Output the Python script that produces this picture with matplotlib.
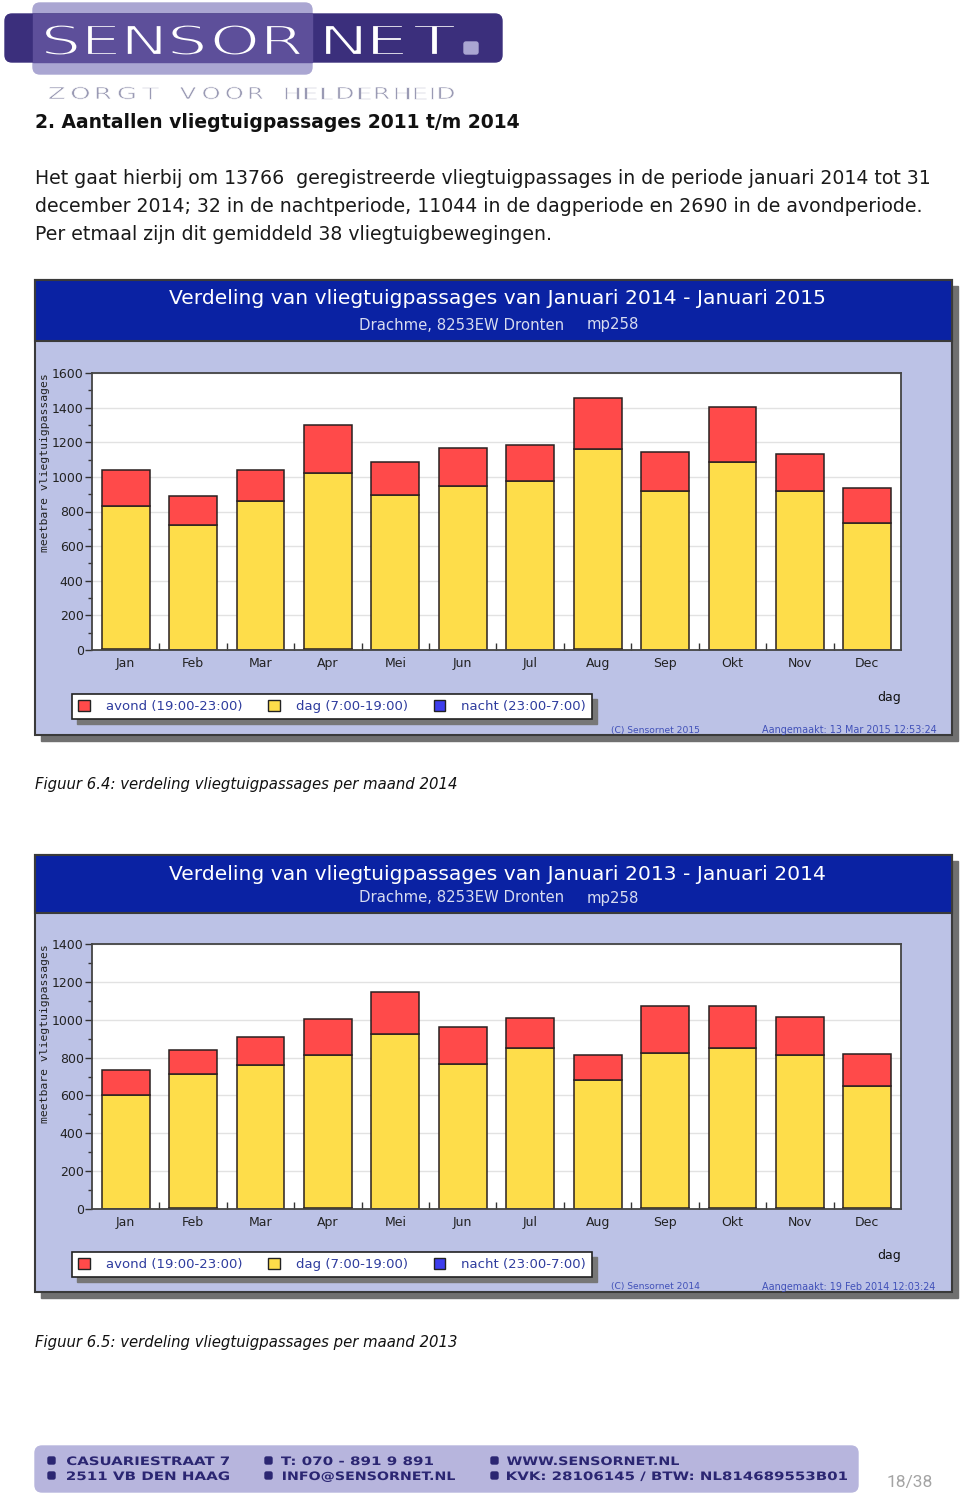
import numpy as np
import matplotlib
matplotlib.use("Agg")
import matplotlib.pyplot as plt
from matplotlib.patches import Rectangle, FancyBboxPatch, Patch, PathPatch
from matplotlib.ticker import MultipleLocator
from matplotlib.textpath import TextPath
from matplotlib.font_manager import FontProperties
from matplotlib.transforms import Affine2D

# ---- data ----
months = ["Jan", "Feb", "Mar", "Apr", "Mei", "Jun", "Jul", "Aug", "Sep", "Okt", "Nov", "Dec"]

# 2014 (Figuur 6.4)
nacht_2014 = [6, 2, 2, 3, 2, 2, 2, 7, 1, 2, 2, 1]
dag_2014 = [827, 719, 858, 1019, 893, 945, 972, 1152, 919, 1083, 918, 732]
avond_2014 = [208, 166, 181, 280, 193, 222, 208, 297, 221, 317, 214, 202]

# 2013 (Figuur 6.5)
nacht_2013 = [1, 4, 1, 4, 1, 1, 1, 1, 3, 3, 3, 3]
dag_2013 = [599, 707, 758, 808, 922, 763, 848, 682, 819, 846, 809, 645]
avond_2013 = [136, 131, 148, 194, 223, 199, 162, 129, 252, 225, 204, 171]

legend_labels = ["avond (19:00-23:00)", "dag (7:00-19:00)", "nacht (23:00-7:00)"]

# ---- styling ----
W, H = 960, 1497
RED = "#ff4a4a"
YELLOW = "#fedd4a"
BLUE = "#3d3ded"
EDGE = "#2a2020"
LAVENDER = "#bcc2e6"
BAND = "#0a22a3"
LEGTXT = "#2e3c9e"
NAVY = "#2b2672"
LOGO_DARK = "#3b2f7c"
LOGO_MID = "#5d4f9a"
LOGO_LIGHT = "#aaa6d2"

fig = plt.figure(figsize=(W / 100, H / 100), dpi=100)
fig.patch.set_facecolor("white")

# page canvas in pixel coordinates
page = fig.add_axes([0, 0, 1, 1])
page.set_xlim(0, W)
page.set_ylim(H, 0)
page.axis("off")


def cap_height(fp):
    return TextPath((0, 0), "H", size=100, prop=fp).get_extents().height


def fit_line(s, x0, x1, ybase, cap, color, fp, zorder=5):
    # stretch a text outline so it spans x0..x1 with the given cap height
    tp = TextPath((0, 0), s, size=100, prop=fp)
    ext = tp.get_extents()
    sx = (x1 - x0) / ext.width
    sy = cap / cap_height(fp)
    tr = Affine2D().translate(-ext.x0, 0).scale(sx, -sy).translate(x0, ybase)
    page.add_patch(PathPatch(tr.transform_path(tp), color=color, lw=0, zorder=zorder))


def fit_letters(word, x0, x1, ybase, cap, color, fp, gap_frac=0.3, edge=None, lw=0, zorder=5):
    # spaced logo lettering; an edge in the background colour thins the strokes
    paths = [TextPath((0, 0), ch, size=100, prop=fp) for ch in word]
    exts = [p.get_extents() for p in paths]
    gap = gap_frac * np.mean([e.width for e in exts])
    total = sum(e.width for e in exts) + gap * (len(word) - 1)
    sx = (x1 - x0) / total
    sy = cap / cap_height(fp)
    cur = 0.0
    for p, e in zip(paths, exts):
        tr = Affine2D().translate(-e.x0 + cur, 0).scale(sx, -sy).translate(x0, ybase)
        page.add_patch(PathPatch(tr.transform_path(p), facecolor=color,
                                 edgecolor=edge if edge else color, lw=lw, zorder=zorder))
        cur += e.width + gap


# ---- logo ----
logo_fp = FontProperties(family="DejaVu Sans")
page.add_patch(FancyBboxPatch((33, 3), 279, 71, boxstyle="round,pad=0,rounding_size=7",
                              color=LOGO_LIGHT, zorder=1))
page.add_patch(FancyBboxPatch((5, 14), 497, 48, boxstyle="round,pad=0,rounding_size=7",
                              color=LOGO_DARK, zorder=2))
page.add_patch(Rectangle((33, 14), 279, 48, color=LOGO_MID, zorder=3))
fit_letters("SENSOR", 45, 302, 55, 30, "white", logo_fp, gap_frac=0.28, edge=LOGO_MID, lw=1.6)
fit_letters("NET", 325, 455, 55, 30, "white", logo_fp, gap_frac=0.28, edge=LOGO_DARK, lw=1.6)
page.add_patch(FancyBboxPatch((464, 42), 14, 12, boxstyle="round,pad=0,rounding_size=2",
                              color=LOGO_LIGHT, zorder=4))
for word, a, b in [("ZORGT", 49, 158), ("VOOR", 180, 263), ("HELDERHEID", 285, 454)]:
    fit_letters(word, a, b, 99, 12, "#9a9ab4", logo_fp, gap_frac=0.45, edge="white", lw=0.5)

# ---- heading and paragraph ----
page.text(35, 122, "2. Aantallen vliegtuigpassages 2011 t/m 2014", ha="left", va="center",
          fontsize=13.5, weight="bold", color="#111111")
para = ["Het gaat hierbij om 13766  geregistreerde vliegtuigpassages in de periode januari 2014 tot 31",
        "december 2014; 32 in de nachtperiode, 11044 in de dagperiode en 2690 in de avondperiode.",
        "Per etmaal zijn dit gemiddeld 38 vliegtuigbewegingen."]
for k, line in enumerate(para):
    page.text(35, 179 + 28 * k, line, ha="left", va="center", fontsize=13.6, color="#1a1a1a")


def draw_chart(frame, band_bottom, title_y, sub_y, plot, legend_box, dag_y, copy_y,
               title, avond, dag, nacht, ymax, copyright, created):
    x0, y0, x1, y1 = frame
    # frame with drop shadow and blue title band
    page.add_patch(Rectangle((x0 + 6, y0 + 6), x1 - x0, y1 - y0, color="#707070", zorder=1))
    page.add_patch(Rectangle((x0, y0), x1 - x0, y1 - y0, facecolor=LAVENDER,
                             edgecolor="#3a3a3a", lw=1.5, zorder=2))
    page.add_patch(Rectangle((x0, y0), x1 - x0, band_bottom - y0, facecolor=BAND,
                             edgecolor="#3a3a3a", lw=1.5, zorder=3))
    page.text(497, title_y, title, ha="center", va="center", color="white", fontsize=14.6, zorder=5)
    page.text(359, sub_y, "Drachme, 8253EW Dronten", ha="left", va="center", color="#d8dcf0",
              fontsize=10.7, zorder=5)
    page.text(587, sub_y, "mp258", ha="left", va="center", color="#d8dcf0", fontsize=10.7, zorder=5)

    # plot area
    px0, py0, px1, py1 = plot
    ax = fig.add_axes([px0 / W, 1 - py1 / H, (px1 - px0) / W, (py1 - py0) / H])
    ax.set_facecolor("white")
    x = np.arange(len(months))
    nacht = np.array(nacht)
    dag = np.array(dag)
    avond = np.array(avond)
    ax.bar(x, nacht, width=0.71, color=BLUE, edgecolor=EDGE, lw=1.1)
    ax.bar(x, dag, bottom=nacht, width=0.71, color=YELLOW, edgecolor=EDGE, lw=1.1)
    ax.bar(x, avond, bottom=nacht + dag, width=0.71, color=RED, edgecolor=EDGE, lw=1.1)
    ax.set_xlim(-0.5, len(months) - 0.5)
    ax.set_ylim(0, ymax)

    ax.yaxis.set_major_locator(MultipleLocator(200))
    ax.yaxis.set_minor_locator(MultipleLocator(100))
    ax.tick_params(axis="y", which="major", direction="out", length=5, width=1,
                   color="#333333", labelcolor="#222222", labelsize=9, pad=1)
    ax.tick_params(axis="y", which="minor", direction="out", length=3, width=1, color="#333333")
    ax.set_xticks(np.arange(0.5, len(months) - 1, 1))
    ax.set_xticklabels([])
    ax.set_xticks(x, minor=True)
    ax.set_xticklabels(months, minor=True)
    ax.tick_params(axis="x", which="major", direction="in", length=5, width=1, color="#333333")
    ax.tick_params(axis="x", which="minor", length=0, pad=5, labelsize=9, labelcolor="#222222")
    ax.grid(axis="y", which="major", color="#e2e2e2", lw=1)
    ax.set_axisbelow(True)
    for s in ax.spines.values():
        s.set_color("#444444")
        s.set_linewidth(1.3)
    ax.text((45 - px0) / (px1 - px0), 1.0, "meetbare vliegtuigpassages", rotation=90,
            ha="center", va="top", transform=ax.transAxes, family="DejaVu Sans Mono",
            fontsize=8.2, color="#222222")

    # legend box with shadow
    lx0, ly0, lx1, ly1 = legend_box
    page.add_patch(Rectangle((lx0 + 5, ly0 + 5), lx1 - lx0, ly1 - ly0, color="#777777", zorder=4))
    handles = [Patch(facecolor=c, edgecolor="#222222", label=lab)
               for c, lab in zip([RED, YELLOW, BLUE], legend_labels)]
    leg = ax.legend(handles=handles, loc="center",
                    bbox_to_anchor=(lx0 / W, 1 - ly1 / H, (lx1 - lx0) / W, (ly1 - ly0) / H),
                    bbox_transform=fig.transFigure, mode="expand", ncol=3, fancybox=False,
                    edgecolor="#222222", framealpha=1, fontsize=9.5, labelcolor=LEGTXT,
                    handlelength=0.9, handleheight=0.9, handletextpad=1.2, borderpad=0.45,
                    borderaxespad=0)
    leg.get_frame().set_linewidth(1.2)

    page.text(889, dag_y, "dag", ha="center", va="center", fontsize=9, color="#111111", zorder=5)
    page.text(611, copy_y, copyright, ha="left", va="center", fontsize=6.6, color="#4050b8", zorder=5)
    page.text(762, copy_y, created, ha="left", va="center", fontsize=6.9, color="#4050b8", zorder=5)


draw_chart((35, 280, 952, 735), 341, 299, 325, (92, 373, 901, 650), (72, 694, 592, 719), 698, 730,
           "Verdeling van vliegtuigpassages van Januari 2014 - Januari 2015",
           avond_2014, dag_2014, nacht_2014, 1600,
           "(C) Sensornet 2015", "Aangemaakt: 13 Mar 2015 12:53:24")
page.text(35, 785, "Figuur 6.4: verdeling vliegtuigpassages per maand 2014", ha="left", va="center",
          fontsize=10.75, style="italic", color="#111111")

draw_chart((35, 855, 952, 1292), 913, 874, 898, (92, 944, 901, 1209), (72, 1252, 592, 1277), 1256, 1287,
           "Verdeling van vliegtuigpassages van Januari 2013 - Januari 2014",
           avond_2013, dag_2013, nacht_2013, 1400,
           "(C) Sensornet 2014", "Aangemaakt: 19 Feb 2014 12:03:24")
page.text(35, 1342, "Figuur 6.5: verdeling vliegtuigpassages per maand 2013", ha="left", va="center",
          fontsize=10.75, style="italic", color="#111111")

# ---- footer ----
foot_fp = FontProperties(family="DejaVu Sans", weight="bold")
page.add_patch(FancyBboxPatch((35, 1446), 823, 46, boxstyle="round,pad=0,rounding_size=7",
                              color="#b7b5dd", zorder=1))
footer_lines = [(48, 67, 229, 1465, "CASUARIESTRAAT 7"),
                (48, 67, 229, 1480, "2511 VB DEN HAAG"),
                (265, 281, 433, 1465, "T: 070 - 891 9 891"),
                (265, 283, 455, 1480, "INFO@SENSORNET.NL"),
                (491, 507, 679, 1465, "WWW.SENSORNET.NL"),
                (491, 507, 847, 1480, "KVK: 28106145 / BTW: NL814689553B01")]
for bx, tx0, tx1, yb, line in footer_lines:
    page.add_patch(FancyBboxPatch((bx, yb - 8), 7, 7, boxstyle="round,pad=0,rounding_size=1.5",
                                  color=NAVY, zorder=2))
    fit_line(line, tx0, tx1, yb, 8.5, NAVY, foot_fp, zorder=3)
page.text(910, 1482, "18/38", ha="center", va="center", fontsize=12.5, color="#a4a4a4",
          family="Roboto")

fig.savefig("out.png", dpi=100)
